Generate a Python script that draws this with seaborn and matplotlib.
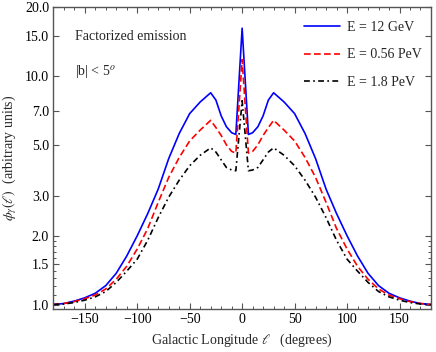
import numpy as np
import pandas as pd
import seaborn as sns
import matplotlib.pyplot as plt
from matplotlib.ticker import FixedLocator, FuncFormatter

# longitude grid (degrees)
lon = [-180, -170, -160, -150, -140, -130, -120, -110, -100, -90, -80, -70, -60, -50, -40, -30,
       -25, -20, -15, -10, -6, 0, 6, 10, 15, 20, 25, 30, 40, 50, 60, 70, 80, 90, 100, 110,
       120, 130, 140, 150, 160, 170, 180]

# left wing -> centre -> right wing
flux_12gev = [1.0, 1.01, 1.035, 1.07, 1.12, 1.21, 1.37, 1.63, 2.0, 2.5, 3.2, 4.35, 5.6, 6.85, 7.7, 8.45,
              7.85, 6.7, 6.0, 5.65, 5.55, 16.2, 5.55, 5.65, 6.0, 6.7, 7.85, 8.45, 7.7, 6.85, 5.6, 4.35,
              3.2, 2.5, 2.0, 1.63, 1.37, 1.21, 1.12, 1.07, 1.035, 1.01, 1.0]
flux_056pev = [1.0, 1.01, 1.03, 1.06, 1.10, 1.17, 1.29, 1.47, 1.75, 2.15, 2.8, 3.6, 4.4, 5.2, 5.8, 6.4,
               5.95, 5.5, 5.0, 4.68, 4.6, 11.8, 4.6, 4.68, 5.0, 5.5, 5.95, 6.4, 5.8, 5.2, 4.4, 3.6,
               2.8, 2.15, 1.75, 1.47, 1.29, 1.17, 1.10, 1.06, 1.03, 1.01, 1.0]
flux_18pev = [1.0, 1.005, 1.02, 1.045, 1.08, 1.14, 1.25, 1.40, 1.58, 1.91, 2.4, 2.95, 3.5, 4.05, 4.5, 4.85,
              4.65, 4.3, 3.98, 3.88, 3.85, 7.8, 3.85, 3.88, 3.98, 4.3, 4.65, 4.85, 4.5, 4.05, 3.5, 2.95,
              2.4, 1.91, 1.58, 1.40, 1.25, 1.14, 1.08, 1.045, 1.02, 1.005, 1.0]

labels = ['E = 12 GeV', 'E = 0.56 PeV', 'E = 1.8 PeV']
colors = ['#0000ff', '#ff0000', '#000000']
dashes = ['', (4, 2), (3.5, 2, 1, 2)]

yticks = [1.0, 1.5, 2.0, 3.0, 5.0, 7.0, 10.0, 15.0, 20.0]
yminor = [1.1, 1.2, 1.3, 1.4, 1.6, 1.7, 1.8, 1.9]

df = pd.DataFrame({
    'l': lon * 3,
    'flux': flux_12gev + flux_056pev + flux_18pev,
    'E': sum([[lab] * len(lon) for lab in labels], []),
})

sns.set_style('ticks')
plt.rcParams['font.family'] = ['Liberation Serif', 'DejaVu Serif']
plt.rcParams['mathtext.fontset'] = 'stix'
plt.rcParams['font.size'] = 10

fig = plt.figure(figsize=(4.36, 3.52), dpi=100)
ax = fig.add_axes([0.1222, 0.1213, 0.8663, 0.8580])

sns.lineplot(data=df, x='l', y='flux', hue='E', style='E', hue_order=labels, style_order=labels,
             palette=dict(zip(labels, colors)), dashes=dict(zip(labels, dashes)),
             linewidth=1.2, legend=False, sort=False, ax=ax)

ax.set_yscale('log')
ax.set_xlim(-180, 180)
ax.set_ylim(0.953, 20)

ax.xaxis.set_major_locator(FixedLocator([-150, -100, -50, 0, 50, 100, 150]))
ax.xaxis.set_minor_locator(FixedLocator(np.arange(-170, 180, 10)))
ax.xaxis.set_major_formatter(FuncFormatter(lambda v, p: f'{int(v)}'.replace('-', '\u2212')))
ax.yaxis.set_major_locator(FixedLocator(yticks))
ax.yaxis.set_minor_locator(FixedLocator(yminor))
ax.yaxis.set_major_formatter(FuncFormatter(lambda v, p: f'{v:.1f}'))
ax.yaxis.set_minor_formatter(FuncFormatter(lambda v, p: ''))

ax.tick_params(which='both', direction='in', top=True, right=True, colors='#555555',
               labelcolor='black', labelsize=10)
ax.tick_params(which='major', length=4, width=0.8, pad=3)
ax.tick_params(which='minor', length=2, width=0.7)
for s in ax.spines.values():
    s.set_color('#555555')
    s.set_linewidth(1.0)

ax.set_xlabel(r'Galactic Longitude $\ell$   (degrees)', fontsize=10, labelpad=4)
ax.set_ylabel(r'$\phi_\gamma(\ell)$  (arbitrary units)', fontsize=10, labelpad=4)

ax.text(0.0575, 0.9026, 'Factorized emission', transform=ax.transAxes, fontsize=10, va='center')
ax.text(0.0575, 0.787, r'|b| < 5$^{o}$', transform=ax.transAxes, fontsize=10, va='center')

ax.legend(handles=ax.lines[:3], labels=labels, loc='upper left', bbox_to_anchor=(0.663, 0.955),
          frameon=False, handlelength=2.6, handletextpad=0.5, labelspacing=1.05,
          borderpad=0, borderaxespad=0, fontsize=10)

fig.savefig('out.png', dpi=100)
